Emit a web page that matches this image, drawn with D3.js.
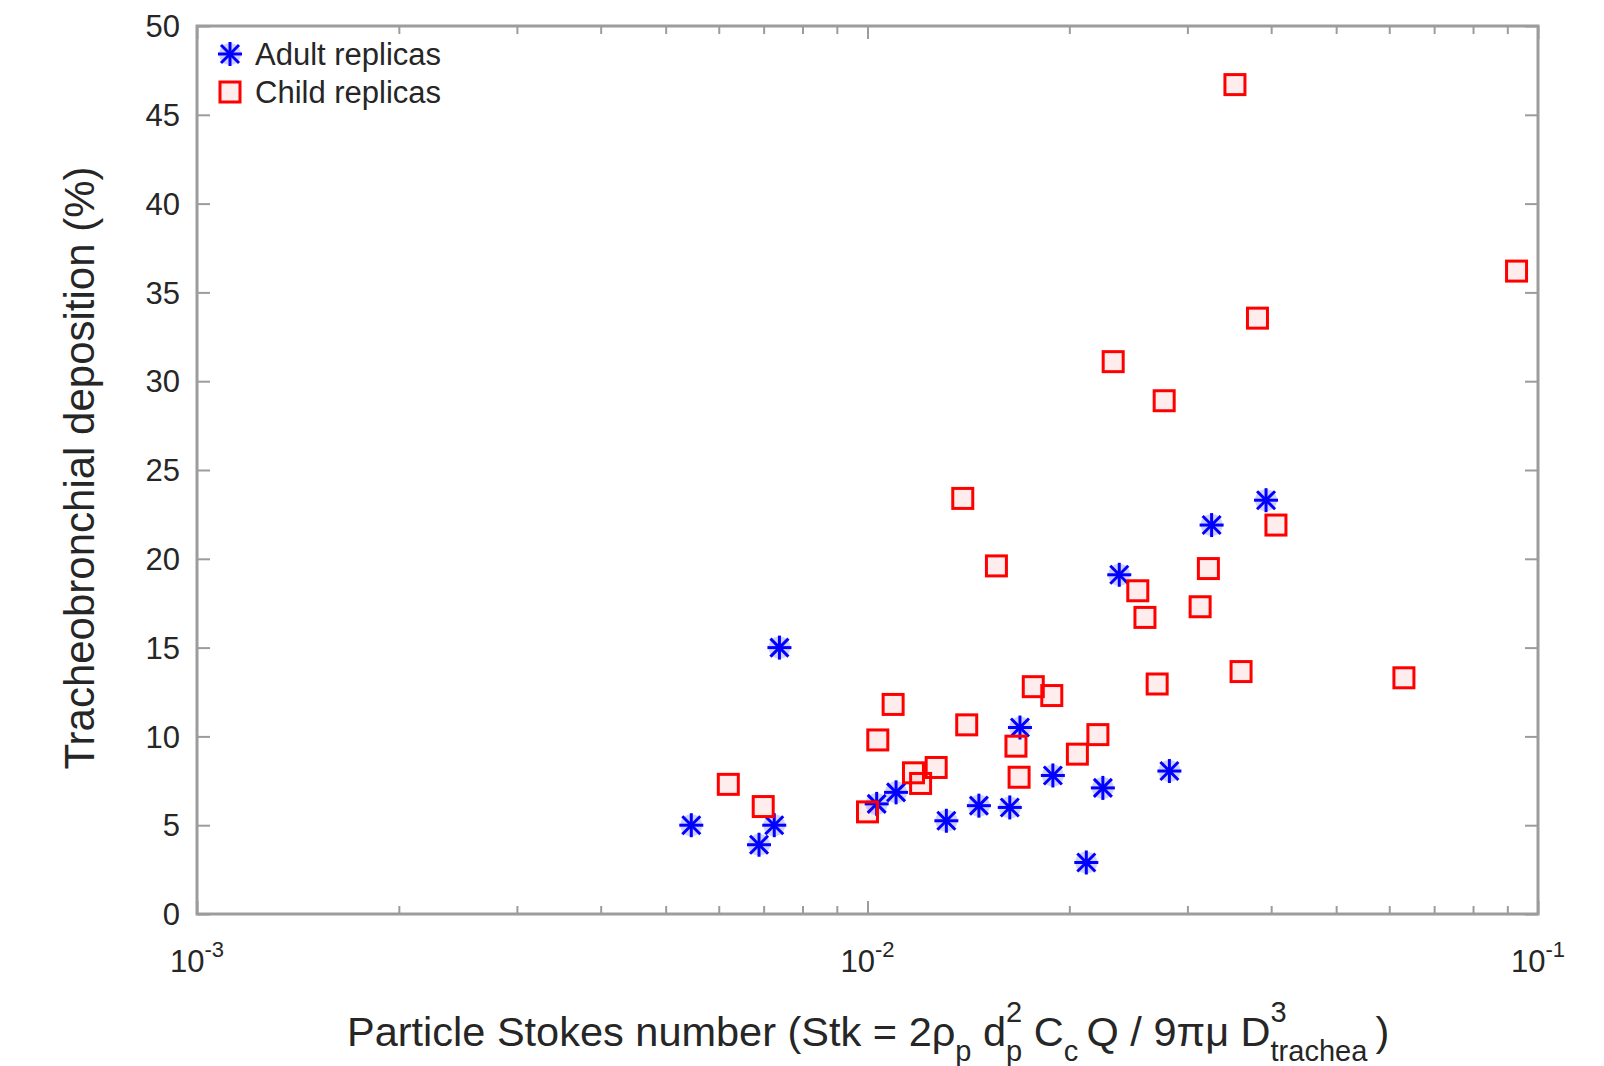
<!DOCTYPE html>
<html>
<head>
<meta charset="utf-8">
<script src="https://cdn.jsdelivr.net/npm/d3@7"></script>
<style>
  html, body { margin: 0; padding: 0; background: #fff; }
  svg text { font-family: "Liberation Sans", Arial, Helvetica, sans-serif; fill: #262626; }
</style>
</head>
<body>
<div class="chart"></div>
<script>
// values
const adultStk = [0.00546, 0.00689, 0.00726, 0.00739, 0.01032, 0.01103, 0.01311, 0.01466, 0.0163, 0.01688, 0.0189, 0.0212, 0.02244, 0.02374, 0.0282, 0.0326, 0.0393];
const adultTB  = [5.0, 3.9, 5.0, 15.0, 6.2, 6.85, 5.25, 6.1, 6.0, 10.5, 7.8, 2.9, 7.1, 19.1, 8.05, 21.9, 23.3];

const childStk = [0.0062, 0.00699, 0.0100, 0.01036, 0.01092, 0.01171, 0.0120, 0.01266, 0.01387, 0.01406, 0.01557, 0.01665, 0.01683, 0.01767, 0.01883, 0.02056, 0.02206, 0.02325, 0.0253, 0.02593, 0.02704, 0.0277, 0.03134, 0.03224, 0.03532, 0.03607, 0.03816, 0.04066, 0.0631, 0.0929];
const childTB  = [7.3, 6.05, 5.75, 9.8, 11.8, 7.95, 7.35, 8.25, 23.4, 10.65, 19.6, 9.45, 7.7, 12.8, 12.3, 9.0, 10.1, 31.1, 18.2, 16.7, 12.95, 28.9, 17.3, 19.45, 46.7, 13.65, 33.55, 21.9, 13.3, 36.2];

const xMajor = [1e-3, 1e-2, 1e-1];
const xMajorExp = ['-3', '-2', '-1'];
const yTicks = [0, 5, 10, 15, 20, 25, 30, 35, 40, 45, 50];
const legendLabels = ['Adult replicas', 'Child replicas'];

const width = 1604, height = 1066;
const m = {left: 197, right: 1538, top: 26, bottom: 914};

let xMinor = [];
[1e-3, 1e-2].forEach(d => { for (let k = 2; k <= 9; k++) xMinor.push(d * k) });

let x = d3.scaleLog().domain([1e-3, 1e-1]).range([m.left, m.right]);
let y = d3.scaleLinear().domain([0, 50]).range([m.bottom, m.top]);

let svg = d3.select('.chart').append('svg')
  .attr('width', width)
  .attr('height', height);

const axisCol = '#9c9c9c';

// box
svg.append('rect')
  .attr('x', m.left).attr('y', m.top)
  .attr('width', m.right - m.left).attr('height', m.bottom - m.top)
  .attr('fill', 'none').attr('stroke', axisCol).attr('stroke-width', 3);

// ticks on all four sides, pointing inward
const styleAxis = g => {
  g.select('.domain').remove();
  g.selectAll('.tick line').attr('stroke', axisCol).attr('stroke-width', 2);
  g.selectAll('.tick text').remove();
};

svg.append('g').attr('transform', `translate(0,${m.bottom})`)
  .call(d3.axisBottom(x).tickValues(xMajor).tickSize(-13)).call(styleAxis);
svg.append('g').attr('transform', `translate(0,${m.bottom})`)
  .call(d3.axisBottom(x).tickValues(xMinor).tickSize(-8)).call(styleAxis);
svg.append('g').attr('transform', `translate(0,${m.top})`)
  .call(d3.axisTop(x).tickValues(xMajor).tickSize(-13)).call(styleAxis);
svg.append('g').attr('transform', `translate(0,${m.top})`)
  .call(d3.axisTop(x).tickValues(xMinor).tickSize(-8)).call(styleAxis);
svg.append('g').attr('transform', `translate(${m.left},0)`)
  .call(d3.axisLeft(y).tickValues(yTicks).tickSize(-13)).call(styleAxis);
svg.append('g').attr('transform', `translate(${m.right},0)`)
  .call(d3.axisRight(y).tickValues(yTicks).tickSize(-13)).call(styleAxis);

// y tick labels
svg.append('g').selectAll('text')
  .data(yTicks).enter().append('text')
  .attr('x', m.left - 17)
  .attr('y', d => y(d))
  .attr('dy', '0.36em')
  .attr('text-anchor', 'end')
  .attr('font-size', 31)
  .text(d => d);

// x tick labels 10^n
let xl = svg.append('g').selectAll('text')
  .data(xMajor).enter().append('text')
  .attr('x', d => x(d))
  .attr('y', 972)
  .attr('text-anchor', 'middle')
  .attr('font-size', 31);
xl.append('tspan').text('10');
xl.append('tspan').attr('dy', -15).attr('font-size', 22).text((d, i) => xMajorExp[i]);

// axis labels
svg.append('text')
  .attr('transform', `translate(94,468) rotate(-90)`)
  .attr('text-anchor', 'middle')
  .attr('font-size', 42)
  .text('Tracheobronchial deposition (%)');

// x label with tex-like sub/superscripts
let xt = svg.append('text')
  .attr('x', 347)
  .attr('y', 1046)
  .attr('font-size', 41.5);
let shift = 0, lastW = 0;
const seg = (t, s, size, back) => {
  let sp = xt.append('tspan')
    .attr('dy', s - shift)
    .attr('font-size', size)
    .text(t);
  if (back) sp.attr('dx', -lastW);
  shift = s;
  lastW = sp.node().getComputedTextLength();
};
seg('Particle Stokes number (Stk = 2\u03c1', 0, 41.5);
seg('p', 15, 29);
seg(' d', 0, 41.5);
seg('p', 15, 29);
seg('2', -24, 29, true);
seg(' C', 0, 41.5);
seg('c', 15, 29);
seg('\u2009Q / 9\u03c0\u03bc D', 0, 41.5);
seg('3', -24, 29);
seg('trachea', 15, 29, true);
seg('\u2009)', 0, 41.5);

// markers
const star = (g, col) => {
  g.append('circle').attr('r', 11).attr('fill', col).attr('opacity', 0.18);
  [[-12, 0, 12, 0], [0, -12, 0, 12], [-9, -9, 9, 9], [-9, 9, 9, -9]].forEach(l => {
    g.append('line')
      .attr('x1', l[0]).attr('y1', l[1]).attr('x2', l[2]).attr('y2', l[3])
      .attr('stroke', col).attr('stroke-width', 3);
  });
};
const square = (g, col) => {
  g.append('rect')
    .attr('x', -10).attr('y', -10).attr('width', 20).attr('height', 20)
    .attr('fill', col).attr('fill-opacity', 0.07)
    .attr('stroke', col).attr('stroke-width', 3);
};

svg.append('g').selectAll('g')
  .data(adultStk).enter().append('g')
  .attr('transform', (d, i) => `translate(${x(d)},${y(adultTB[i])})`)
  .each(function () { star(d3.select(this), '#0000ff') });

svg.append('g').selectAll('g')
  .data(childStk).enter().append('g')
  .attr('transform', (d, i) => `translate(${x(d)},${y(childTB[i])})`)
  .each(function () { square(d3.select(this), '#ff0000') });

// legend
let leg = svg.append('g').selectAll('g')
  .data(legendLabels).enter().append('g')
  .attr('transform', (d, i) => `translate(230,${54 + i * 38})`);
leg.each(function (d, i) {
  if (i == 0) star(d3.select(this), '#0000ff');
  else square(d3.select(this), '#ff0000');
});
leg.append('text')
  .attr('x', 25)
  .attr('dy', '0.36em')
  .attr('font-size', 31)
  .text(d => d);
</script>
</body>
</html>
